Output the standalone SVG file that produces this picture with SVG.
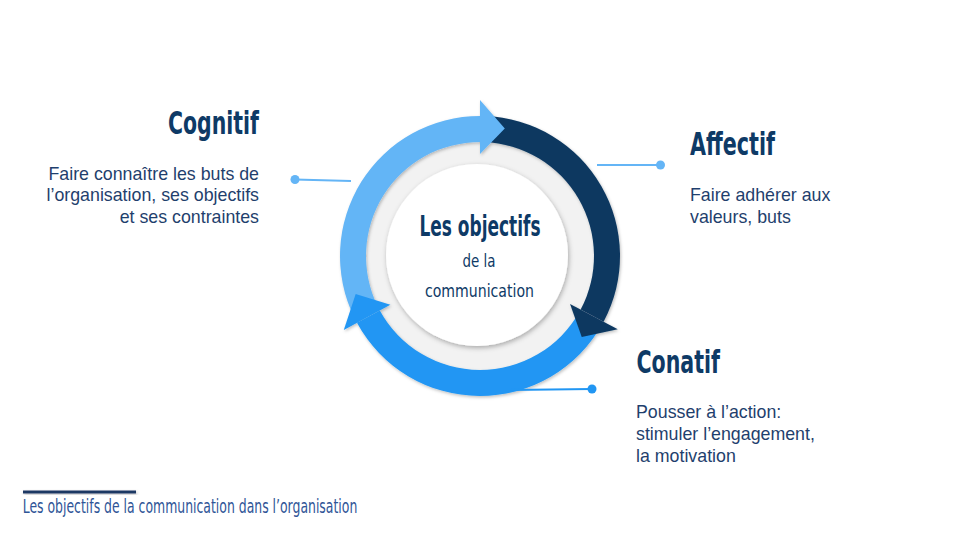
<svg xmlns="http://www.w3.org/2000/svg" width="960" height="540" viewBox="0 0 960 540">
<defs>
<style>
.title{font-family:"DejaVu Sans","Liberation Sans",sans-serif;font-stretch:condensed;font-weight:bold;font-size:32px;fill:#0e3a66}
.body{font-family:"Liberation Sans",Arial,sans-serif;font-size:17.8px;fill:#1f3f6d}
.center{font-family:"DejaVu Sans","Liberation Sans",sans-serif;font-stretch:condensed;fill:#0e3a66}
.foot{font-family:"DejaVu Sans","Liberation Sans",sans-serif;font-stretch:condensed;font-size:19px;fill:#2f5597}
.conn{stroke-width:2;fill:none}
</style>
<filter id="sh" x="-20%" y="-20%" width="140%" height="140%">
<feDropShadow dx="1" dy="2" stdDeviation="2.5" flood-color="#000" flood-opacity="0.3"/>
</filter>
<filter id="shs" x="-20%" y="-50%" width="140%" height="200%">
<feDropShadow dx="1" dy="1.5" stdDeviation="1.5" flood-color="#000" flood-opacity="0.25"/>
</filter>
</defs>
<rect width="960" height="540" fill="#ffffff"/>

<g id="cycle">
<circle cx="480" cy="256" r="118" fill="#f2f2f2"/>
<g filter="url(#shs)">
<path d="M354.17,317.37 A140,140 0 0 1 480,116 L480,142 A114,114 0 0 0 377.54,305.98 Z" fill="#64b5f6"/>
<path d="M484.89,116.08 A140,140 0 0 1 603.61,321.73 L580.65,309.52 A114,114 0 0 0 483.98,142.07 Z" fill="#0b3861"/>
<path d="M602.44,323.87 A140,140 0 0 1 356.97,322.81 L379.82,310.40 A114,114 0 0 0 579.70,311.27 Z" fill="#2196f3"/>
<polygon points="480,154 480,100 504.8,128.4" fill="#64b5f6"/>
<polygon points="570.06,303.89 617.74,329.24 581.74,336.93" fill="#0b3861"/>
<polygon points="390.36,304.67 343.79,329.97 355.68,294.01" fill="#2196f3"/>
</g>
<circle cx="477" cy="255" r="91" fill="#ffffff" filter="url(#sh)"/>
<text class="center" x="480" y="235.5" font-size="29" font-weight="bold" text-anchor="middle" textLength="121" lengthAdjust="spacingAndGlyphs">Les objectifs</text>
<text class="center" x="479" y="266.5" font-size="18" text-anchor="middle" textLength="33" lengthAdjust="spacingAndGlyphs">de la</text>
<text class="center" x="479.5" y="296.5" font-size="18" text-anchor="middle" textLength="109" lengthAdjust="spacingAndGlyphs">communication</text>
</g>

<g id="connectors">
<line class="conn" x1="295" y1="179.5" x2="351" y2="181" stroke="#64b5f6"/>
<circle cx="295" cy="179.5" r="4.5" fill="#64b5f6"/>
<line class="conn" x1="597" y1="165" x2="660.5" y2="165" stroke="#64b5f6"/>
<circle cx="660.5" cy="165" r="4.5" fill="#64b5f6"/>
<line class="conn" x1="510" y1="390" x2="592" y2="389" stroke="#2196f3"/>
<circle cx="592" cy="389" r="4.5" fill="#2196f3"/>
</g>

<g id="cognitif">
<text class="title" x="259" y="133.5" text-anchor="end" textLength="91" lengthAdjust="spacingAndGlyphs">Cognitif</text>
<text class="body" x="259" y="179.5" text-anchor="end">Faire connaître les buts de</text>
<text class="body" x="259" y="201" text-anchor="end">l’organisation, ses objectifs</text>
<text class="body" x="259" y="222.5" text-anchor="end">et ses contraintes</text>
</g>

<g id="affectif">
<text class="title" x="690" y="155" textLength="85" lengthAdjust="spacingAndGlyphs">Affectif</text>
<text class="body" x="690" y="201">Faire adhérer aux</text>
<text class="body" x="690" y="222.5">valeurs, buts</text>
</g>

<g id="conatif">
<text class="title" x="636.5" y="373.3" textLength="83.5" lengthAdjust="spacingAndGlyphs">Conatif</text>
<text class="body" x="636" y="418">Pousser à l’action:</text>
<text class="body" x="636" y="440">stimuler l’engagement,</text>
<text class="body" x="636" y="462">la motivation</text>
</g>

<g id="footer">
<rect x="23" y="490.5" width="113" height="3" fill="#1f3864" filter="url(#shs)"/>
<text class="foot" x="22.7" y="513.3" textLength="334.6" lengthAdjust="spacingAndGlyphs">Les objectifs de la communication dans l’organisation</text>
</g>
</svg>
